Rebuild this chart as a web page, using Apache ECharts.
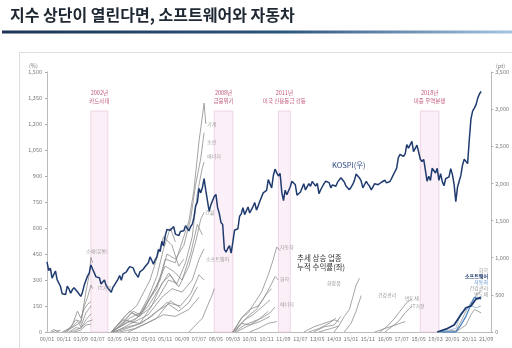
<!DOCTYPE html>
<html><head><meta charset="utf-8">
<script src="https://cdn.jsdelivr.net/npm/echarts@6/dist/echarts.min.js"></script>
<style>html,body{margin:0;padding:0;background:#fff}#c{width:512px;height:348px}</style>
</head><body><div id="c"></div>
<script>
// ---------- categories (monthly, YY/MM) ----------
const months = [];
for (let y = 0; y <= 21; y++) for (let m = 1; m <= 12; m++) months.push(String(y).padStart(2,'0') + '/' + String(m).padStart(2,'0'));

// ---------- KOSPI monthly (right axis, pt) ----------
const kospi = [
 943,828,860,725,731,821,705,688,613,514,523,504,
 617,579,523,568,596,595,541,545,479,536,628,693,
 752,793,903,848,796,742,717,730,646,673,700,627,
 592,575,536,600,633,670,710,760,697,780,796,810,
 848,880,883,863,803,785,735,810,835,845,878,896,
 932,1011,965,911,970,1008,1111,1083,1221,1158,1297,1379,
 1400,1371,1359,1419,1317,1295,1297,1352,1371,1364,1432,1434,
 1360,1417,1453,1542,1700,1744,1933,1873,1946,2064,1906,1897,
 1624,1711,1704,1825,1852,1674,1595,1475,1448,1113,1076,1124,
 1162,1063,1206,1369,1395,1390,1557,1591,1673,1580,1555,1682,
 1602,1594,1692,1741,1641,1698,1759,1742,1873,1882,1905,2051,
 2069,1939,2107,2192,2142,2100,2133,1880,1770,1909,1847,1826,
 1956,2030,2014,1982,1843,1854,1881,1905,1996,1912,1933,1997,
 1962,2027,2005,1964,2001,1863,1915,1926,1997,2030,2045,2011,
 1941,1980,1986,1962,2017,2002,2076,2068,2020,1964,1981,1916,
 1949,1986,2041,2127,2114,2074,2030,1941,1963,2029,1991,1961,
 1912,1917,1996,1994,1983,1970,2016,2034,2043,2008,1983,2026,
 2067,2091,2160,2205,2347,2392,2402,2363,2394,2523,2476,2467,
 2566,2427,2445,2515,2423,2326,2295,2323,2343,2030,2096,2041,
 2204,2195,2141,2204,2041,2131,2025,1968,2063,2083,2088,2198,
 2119,1987,1755,1948,2030,2108,2249,2326,2328,2267,2591,2873,
 2976,3013,3061,3148,3204,3240
];

// ---------- sector cumulative returns (left axis, %) ----------
// group 2000-2002
const secA = [
 [['00/10',0],['01/01',15],['01/04',30],['01/07',60],['01/09',50],['01/10',110],['01/12',230],['02/02',330],['02/03',430],['02/04',400]],
 [['00/12',0],['01/03',30],['01/06',70],['01/09',60],['01/11',150],['02/01',200],['02/03',270],['02/04',250]],
 [['01/01',0],['01/04',40],['01/07',120],['01/09',80],['01/11',130],['02/01',160],['02/03',175]],
 [['00/11',0],['01/03',20],['01/08',50],['01/09',30],['01/12',110],['02/03',150]],
 [['01/02',0],['01/06',25],['01/09',20],['01/12',70],['02/03',105]],
 [['01/03',0],['01/07',15],['01/10',30],['02/01',60],['02/04',70]],
 [['00/03',0],['00/05',15],['00/07',5],['00/09',10]],
 [['00/04',0],['00/06',8],['00/08',2]],
 [['01/05',0],['01/09',10],['01/12',40],['02/03',45]]
];
// group 2003-2008
const secB = [
 [['03/03',0],['03/09',40],['04/03',110],['04/08',90],['05/01',180],['05/06',250],['05/11',420],['06/05',400],['06/09',520],['07/01',640],['07/04',820],['07/07',1100],['07/10',1320],['07/11',1200]],
 [['03/04',0],['03/10',60],['04/04',120],['04/08',100],['05/02',200],['05/08',300],['05/12',450],['06/05',420],['06/10',500],['07/02',650],['07/05',850],['07/08',1000],['07/10',1150]],
 [['03/03',0],['03/12',50],['04/06',80],['05/01',130],['05/07',200],['06/01',300],['06/06',280],['06/11',400],['07/03',550],['07/06',800],['07/09',950],['07/10',980]],
 [['03/03',0],['04/01',60],['04/08',50],['05/03',150],['05/09',280],['06/02',330],['06/07',260],['07/01',380],['07/05',520],['07/08',650],['07/10',690]],
 [['03/04',0],['04/02',80],['04/10',120],['05/05',250],['05/11',380],['06/04',350],['06/09',300],['07/02',450],['07/06',620],['07/09',560]],
 [['03/03',0],['03/12',100],['04/06',150],['05/02',300],['05/10',550],['06/03',500],['06/07',380],['06/10',420]],
 [['03/05',0],['04/03',50],['05/01',100],['05/09',200],['06/03',250],['06/09',230],['07/03',300],['07/07',420],['07/10',480]],
 [['03/03',0],['03/10',70],['04/04',60],['05/01',150],['05/08',260],['06/01',340],['06/06',270]],
 [['03/06',0],['04/06',40],['05/03',90],['05/12',170],['06/08',150],['07/02',220],['07/07',330],['07/10',300]],
 [['03/04',0],['04/01',30],['04/09',50],['05/06',120],['06/01',160],['06/07',120],['07/01',170],['07/06',260]],
 [['03/08',0],['04/05',20],['05/02',60],['05/10',100],['06/05',90],['07/01',130],['07/07',200]],
 [['04/01',0],['04/10',40],['05/06',80],['06/02',180],['06/08',140]],
 [['07/01',0],['07/05',40],['07/09',80],['07/12',150],['08/03',220],['08/04',250]],
 [['03/03',0],['04/02',120],['04/07',90],['05/01',200],['05/06',320],['05/10',480],['06/02',600],['06/05',520]]
];
// group 2009-2011
const secC = [
 [['09/03',0],['09/08',80],['09/12',110],['10/04',170],['10/08',230],['10/12',330],['11/03',420],['11/05',490],['11/07',470]],
 [['09/03',0],['09/09',60],['10/01',100],['10/05',130],['10/09',190],['11/01',260],['11/04',320],['11/06',300]],
 [['09/04',0],['09/10',40],['10/03',60],['10/08',80],['11/01',110],['11/04',145]],
 [['09/03',0],['09/09',90],['10/01',130],['10/06',150],['10/11',220],['11/02',250]],
 [['09/04',0],['09/10',70],['10/03',100],['10/09',150],['11/01',185]],
 [['09/05',0],['10/01',40],['10/07',60],['11/01',90]],
 [['09/03',0],['09/08',50],['10/01',40],['10/06',70],['10/12',120]],
 [['10/01',0],['10/06',20],['10/12',50],['11/05',60]]
];
// group 2012-2018
const secD = [
 [['12/09',0],['13/03',30],['13/09',50],['14/03',70],['14/06',60]],
 [['12/12',0],['13/06',20],['13/12',50],['14/04',80]],
 [['13/03',0],['13/09',30],['14/03',40],['14/07',90]],
 [['13/06',0],['14/01',20],['14/06',35]],
 [['14/03',0],['14/06',40],['14/09',90],['14/12',130],['15/02',200],['15/04',270],['15/06',310]],
 [['14/09',0],['15/01',50],['15/04',120],['15/07',210]],
 [['16/06',0],['16/10',30],['17/02',70],['17/06',120],['17/10',170],['18/01',190]],
 [['16/09',0],['17/01',30],['17/05',60],['17/09',110],['18/01',150]],
 [['16/03',0],['16/09',20],['17/03',40],['17/09',60]]
];
// group 2019-2021
const e화학 = [['19/05',0],['19/12',10],['20/03',5],['20/06',60],['20/09',120],['20/12',170],['21/03',210],['21/06',240]];
const e소프트웨어 = [['19/04',0],['19/10',20],['20/02',40],['20/03',30],['20/06',100],['20/09',140],['20/12',150],['21/03',190],['21/06',200]];
const e자동차 = [['19/06',0],['20/03',0],['20/06',40],['20/09',90],['20/12',160],['21/02',200],['21/06',190]];
const e건강관리 = [['19/06',0],['20/03',20],['20/06',110],['20/09',130],['20/12',150],['21/03',140],['21/06',150]];
const e반도체 = [['19/07',0],['20/03',0],['20/06',20],['20/09',40],['20/12',100],['21/02',130],['21/06',110]];

// ---------- event bands ----------
const bands = [
 {from:'02/03', to:'03/01', label:'2002년\n카드사태'},
 {from:'08/04', to:'09/03', label:'2008년\n금융위기'},
 {from:'11/06', to:'12/01', label:'2011년\n미국 신용등급 강등'},
 {from:'18/06', to:'19/05', label:'2018년\n미중 무역분쟁'}
];
const bandTop = 1275;

// ---------- tick labels ----------
const leftTicks = {min:0, max:1500, interval:150};
const rightTicks = {min:0, max:3500, interval:500};

const FONT = '"Noto Sans CJK KR", "Noto Sans", sans-serif';
const fmt = v => v.toLocaleString('en-US');

const chart = echarts.init(document.getElementById('c'), null, {renderer:'canvas'});
const series = [];
const grayLine = d => ({type:'line', data:d, yAxisIndex:0, showSymbol:false, symbol:'none', silent:true,
  lineStyle:{color:'#8d8d8d', width:0.8}, z:2});
[...secA, ...secB, ...secC, ...secD].forEach(d => series.push(grayLine(d)));
series.push(grayLine(e화학));
series.push(grayLine(e반도체));
series.push({type:'line', data:e건강관리, showSymbol:false, symbol:'none', lineStyle:{color:'#a9bfd6', width:1}, z:3});
series.push({type:'line', data:e자동차, showSymbol:false, symbol:'none', lineStyle:{color:'#4f86c6', width:1.3}, z:4});
series.push({type:'line', data:e소프트웨어, showSymbol:false, symbol:'none', lineStyle:{color:'#1d3a6e', width:1.8}, z:5});
// bands
series.push({type:'line', data:[], yAxisIndex:0, z:1,
  markArea:{silent:true,
    itemStyle:{color:'#fcf0f8', borderColor:'#ebc9df', borderWidth:0.8},
    label:{position:'top', distance:6, color:'#c0577e', fontSize:5.5, lineHeight:8, fontFamily:FONT},
    data: bands.map(b => [{xAxis:b.from, yAxis:0, name:b.label}, {xAxis:b.to, yAxis:bandTop}])
  }});
// KOSPI
series.push({type:'line', data:kospi, yAxisIndex:1, showSymbol:false, symbol:'none',
  lineStyle:{color:'#1f3b6f', width:1.5}, z:6});

const txt = (t, x, y, o={}) => ({type:'text', x, y, silent:true, z:100, style:Object.assign({text:t, fontSize:5, fill:'#9a9a9a', fontFamily:FONT}, o)});

chart.setOption({
  animation:false,
  textStyle:{fontFamily:FONT},
  grid:{left:47, right:18, top:72, bottom:16},
  xAxis:{type:'category', data:months, boundaryGap:false,
    axisLine:{lineStyle:{color:'#aaaaaa', width:0.8}}, axisTick:{show:false},
    axisLabel:{interval:9, fontSize:5.5, color:'#777', margin:4, fontFamily:FONT}},
  yAxis:[
    {type:'value', min:leftTicks.min, max:leftTicks.max, interval:leftTicks.interval, splitLine:{show:false},
     axisLine:{show:true, lineStyle:{color:'#aaaaaa', width:0.8}}, axisTick:{show:true, length:2, lineStyle:{color:'#aaa'}},
     axisLabel:{fontSize:5.5, color:'#777', margin:5, formatter:fmt}},
    {type:'value', min:rightTicks.min, max:rightTicks.max, interval:rightTicks.interval, splitLine:{show:false},
     axisLine:{show:true, lineStyle:{color:'#aaaaaa', width:0.8}}, axisTick:{show:true, length:2, lineStyle:{color:'#aaa'}},
     axisLabel:{fontSize:5.5, color:'#777', margin:4, formatter:fmt}}
  ],
  series,
  graphic:[
    {type:'rect', shape:{x:19.5, y:52.5, width:520, height:320}, style:{fill:'#ffffff', stroke:'#dedede', lineWidth:1}, z:-10, silent:true},
    {type:'text', x:10, y:7, z:100, style:{text:'지수 상단이 열린다면, 소프트웨어와 자동차', fontSize:16, fontWeight:'bold', fill:'#1e2833', fontFamily:FONT}},
    {type:'rect', shape:{x:2, y:30.5, width:510, height:3}, z:100, style:{fill:new echarts.graphic.LinearGradient(0,0,1,0,[{offset:0,color:'#1c3556'},{offset:0.55,color:'#2a5478'},{offset:1,color:'#a7c5e3'}])}},
    txt('(%)', 29, 63, {fill:'#777', fontSize:5.5}),
    txt('(pt)', 496, 63, {fill:'#777', fontSize:5.5}),
    txt('KOSPI(우)', 332, 161, {fill:'#2b4a80', fontSize:7.5}),
    txt('추세 상승 업종', 297, 254, {fill:'#333', fontSize:7.5}),
    txt('누적 수익률(좌)', 297, 263, {fill:'#333', fontSize:7.5}),
    txt('소매(유통)', 86, 249),
    txt('IT가전', 98, 286),
    txt('기계', 207, 122),
    txt('조선', 207, 140),
    txt('에너지', 207, 154),
    txt('건설', 205, 210),
    txt('소프트웨어', 206, 257),
    txt('자동차', 280, 245),
    txt('화학', 280, 277),
    txt('에너지', 280, 302),
    txt('화장품', 327, 281),
    txt('건강관리', 378, 293),
    txt('반도체', 405, 296),
    txt('IT가전', 411, 304),
    txt('화학', 488, 268, {align:'right'}),
    txt('소프트웨어', 488, 274, {align:'right', fill:'#1d3a6e', fontWeight:'bold'}),
    txt('자동차', 488, 280, {align:'right', fill:'#4f86c6'}),
    txt('건강관리', 488, 286, {align:'right'}),
    txt('반도체', 488, 292, {align:'right'})
  ]
});
</script></body></html>
